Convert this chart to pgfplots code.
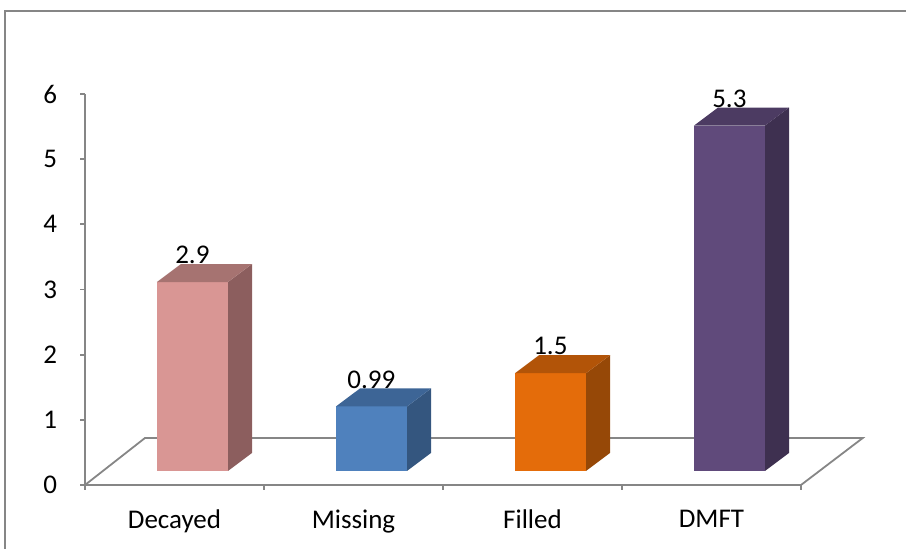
\documentclass[border=0pt]{standalone}
\usepackage{pgfplots}
\pgfplotsset{compat=1.18}
\usepackage{pgfplotstable}
\usepackage{fontspec}
\setmainfont{Carlito}

\definecolor{axgray}{RGB}{134,134,134}
\definecolor{dF}{RGB}{217,150,148}
\definecolor{dS}{RGB}{140,94,94}
\definecolor{dT}{RGB}{166,115,113}
\definecolor{mF}{RGB}{79,129,189}
\definecolor{mS}{RGB}{52,86,127}
\definecolor{mT}{RGB}{61,101,150}
\definecolor{fF}{RGB}{228,108,10}
\definecolor{fS}{RGB}{150,72,7}
\definecolor{fT}{RGB}{178,84,8}
\definecolor{tF}{RGB}{96,74,123}
\definecolor{tS}{RGB}{62,48,80}
\definecolor{tT}{RGB}{76,59,98}

\pgfplotstableread{
x v
0 2.9
1 0.99
2 1.5
3 5.3
}\data

% #1 category index, #2 value, #3 front, #4 side, #5 top colour
\newcommand\cbar[5]{%
  \pgfmathsetmacro\xa{#1+0.402}%
  \pgfmathsetmacro\xb{#1+0.799}%
  \pgfmathsetmacro\xc{#1+0.933}%
  \pgfmathsetmacro\xd{#1+0.536}%
  \pgfmathsetmacro\ya{0.215}%
  \pgfmathsetmacro\yb{#2+0.215}%
  \pgfmathsetmacro\yc{0.491}%
  \pgfmathsetmacro\yd{#2+0.491}%
  \addplot[fill=#3, draw=none] coordinates {(\xa,\ya) (\xb,\ya) (\xb,\yb) (\xa,\yb)} -- cycle;
  \addplot[fill=#4, draw=none] coordinates {(\xb,\ya) (\xc,\yc) (\xc,\yd) (\xb,\yb)} -- cycle;
  \addplot[fill=#5, draw=none] coordinates {(\xa,\yb) (\xb,\yb) (\xc,\yd) (\xd,\yd)} -- cycle;
}

\begin{document}
\begin{tikzpicture}
\useasboundingbox (0,0) rectangle (453pt,274.5pt);
\draw[axgray, line width=1pt] (2.5pt,-10pt) -- (2.5pt,269pt) -- (470pt,269pt);
\pgfplotstablegetelem{0}{v}\of\data \let\va\pgfplotsretval
\pgfplotstablegetelem{1}{v}\of\data \let\vb\pgfplotsretval
\pgfplotstablegetelem{2}{v}\of\data \let\vc\pgfplotsretval
\pgfplotstablegetelem{3}{v}\of\data \let\vd\pgfplotsretval
\begin{axis}[
  at={(42.5pt,32pt)}, anchor=south west,
  scale only axis, width=358pt, height=195.5pt,
  xmin=0, xmax=4, ymin=0, ymax=6,
  axis x line*=bottom, axis y line*=left,
  axis line style={axgray, line width=0.9pt, -},
  xtick={0,1,2,3,4}, xticklabels={Decayed,Missing,Filled,DMFT},
  x tick label as interval,
  ytick={0,1,2,3,4,5,6},
  tick style={axgray, line width=0.9pt},
  tick align=outside,
  major tick length=2.5pt,
  clip=false,
  tick label style={font=\fontsize{13.5}{16}\selectfont, text=black},
  yticklabel style={xshift=-8pt},
  xticklabel style={yshift=-6.5pt},
  /pgf/number format/assume math mode=true,
]
\addplot[axgray, line width=0.9pt, mark=none] coordinates {(0,0) (0.335,0.721) (4.345,0.721) (4,0)};
\cbar{0}{\va}{dF}{dS}{dT}
\cbar{1}{\vb}{mF}{mS}{mT}
\cbar{2}{\vc}{fF}{fS}{fT}
\cbar{3}{\vd}{tF}{tS}{tT}
\addplot[draw=none, mark=none, nodes near coords, point meta=explicit,
  every node near coord/.append style={anchor=center, yshift=13.5pt,
    font=\fontsize{13.5}{16}\selectfont, text=black}]
  table[x expr=\thisrow{x}+0.6, y expr=\thisrow{v}+0.215, meta=v] {\data};
\end{axis}
\end{tikzpicture}
\end{document}
